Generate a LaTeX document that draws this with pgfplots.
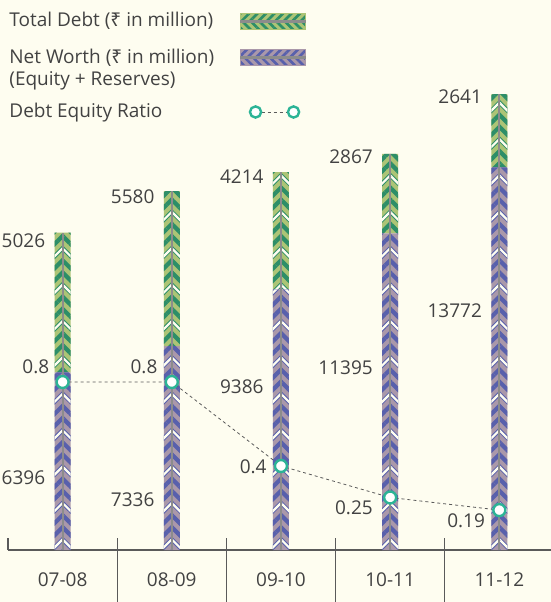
\documentclass[border=0pt]{standalone}
\usepackage{fontspec}
\setmainfont{Open Sans}
\newfontfamily\rupeefont{Noto Sans}
\usepackage{pgfplots}
\pgfplotsset{compat=1.18}
\usetikzlibrary{patterns.meta}

\definecolor{bg}{RGB}{254,253,240}
\definecolor{txt}{RGB}{66,66,66}
\definecolor{axisgray}{RGB}{90,90,90}
\definecolor{dgreen}{RGB}{45,142,104}
\definecolor{lgreen}{RGB}{172,196,118}
\definecolor{nblue}{RGB}{88,96,172}
\definecolor{npurple}{RGB}{170,152,170}
\definecolor{spine}{RGB}{140,140,140}
\definecolor{ratiocol}{RGB}{44,180,150}

\newcommand{\rupee}{{\rupeefont ₹}}

% chevron period: 2 x category spacing = 6 periods; right half shifted by 2 x first bar centre
\tikzset{
  halfL/.style 2 args={draw=none, fill=#1,
    postaction={pattern={Lines[angle=45,distance=4.29pt,line width=2.1pt]}, pattern color=#2},
    postaction={pattern={Lines[angle=45,distance=12.868pt,line width=1.1pt]}, pattern color=bg}},
  halfR/.style 2 args={draw=none, fill=#1,
    postaction={pattern={Lines[angle=-45,distance=4.29pt,line width=2.1pt,yshift=62.6pt]}, pattern color=#2},
    postaction={pattern={Lines[angle=-45,distance=12.868pt,line width=1.1pt,yshift=62.6pt]}, pattern color=bg}},
  barlabel/.style={anchor=east, inner sep=0pt, xshift=-8.5pt},
}
\pgfplotsset{
  base/.style={
    scale only axis, width=271.5pt, height=275pt,
    at={(4pt,26pt)}, anchor=south west,
    xmin=-0.5, xmax=4.473, ymin=0, ymax=19800,
    clip=false,
  },
}

\begin{document}
\begin{tikzpicture}[font=\fontsize{9.5}{11}\selectfont, every node/.append style={text=txt}]
\path[use as bounding box, fill=bg] (0,0) rectangle (275.5pt,301pt);

% left halves of the bars, x axis and value labels
\begin{axis}[base,
    ybar stacked, bar width=4pt, bar shift=-2pt,
    axis x line*=bottom, hide y axis,
    axis line style={draw=axisgray, line width=0.6pt, -},
    xtick={0,1,2,3,4},
    xticklabels={07-08,08-09,09-10,10-11,11-12},
    major tick length=0pt,
    xticklabel style={anchor=center, yshift=-15pt},
  ]
  \addplot[halfL={npurple}{nblue}] coordinates {(0,6396) (1,7336) (2,9386) (3,11395) (4,13772)};
  \addplot[halfL={lgreen}{dgreen}] coordinates {(0,5026) (1,5580) (2,4214) (3,2867) (4,2641)};

  \draw[axisgray, line width=0.6pt] (axis cs:-0.5,0) -- ++(0pt,6pt);
  \pgfplotsinvokeforeach{0.5,1.5,2.5,3.5}{
    \draw[axisgray, line width=0.6pt] (axis cs:#1,0) ++(0pt,6pt) -- ++(0pt,-32pt);
  }

  % total debt
  \node[barlabel] at (axis cs:0,11124) {5026};
  \node[barlabel] at (axis cs:1,12708) {5580};
  \node[barlabel] at (axis cs:2,13428) {4214};
  \node[barlabel] at (axis cs:3,14148) {2867};
  \node[barlabel] at (axis cs:4,16308) {2641};
  % net worth
  \node[barlabel] at (axis cs:0,2592) {6396};
  \node[barlabel] at (axis cs:1,1800) {7336};
  \node[barlabel] at (axis cs:2,5868) {9386};
  \node[barlabel] at (axis cs:3,6552) {11395};
  \node[barlabel] at (axis cs:4,8604) {13772};
\end{axis}

% right halves
\begin{axis}[base, ybar stacked, bar width=4pt, bar shift=2pt, hide axis]
  \addplot[halfR={npurple}{nblue}] coordinates {(0,6396) (1,7336) (2,9386) (3,11395) (4,13772)};
  \addplot[halfR={lgreen}{dgreen}] coordinates {(0,5026) (1,5580) (2,4214) (3,2867) (4,2641)};
\end{axis}

% centre spine
\begin{axis}[base, hide axis]
  \addplot[ycomb, spine, line width=1pt, no markers]
    coordinates {(0,11422) (1,12916) (2,13600) (3,14262) (4,16413)};
\end{axis}

% debt equity ratio
\begin{axis}[base, ymax=2.619, hide axis,
    legend plot pos=right,
    legend cell align=left,
    legend style={at={(0,1)}, anchor=north west, xshift=-1.5pt, yshift=-4pt,
      draw=none, fill=none, inner sep=0pt, row sep=5.5pt,
      nodes={align=left, text=txt},
      /tikz/every odd column/.append style={column sep=10.5pt}},
  ]
  \addlegendimage{legend image code/.code={
      \fill[lgreen, postaction={pattern={Lines[angle=45,distance=3pt,line width=1.3pt]}, pattern color=dgreen}] (0pt,0pt) rectangle (32.5pt,4pt);
      \fill[lgreen, postaction={pattern={Lines[angle=-45,distance=3pt,line width=1.3pt]}, pattern color=dgreen}] (0pt,-4pt) rectangle (32.5pt,0pt);
      \fill[spine] (0pt,-0.4pt) rectangle (32.5pt,0.4pt);
    }}
  \addlegendentry{Total Debt (\rupee\ in million)}
  \addlegendimage{legend image code/.code={
      \fill[npurple, postaction={pattern={Lines[angle=45,distance=3pt,line width=1.3pt]}, pattern color=nblue}] (0pt,5.5pt) rectangle (32.5pt,9.5pt);
      \fill[npurple, postaction={pattern={Lines[angle=-45,distance=3pt,line width=1.3pt]}, pattern color=nblue}] (0pt,1.5pt) rectangle (32.5pt,5.5pt);
      \fill[spine] (0pt,5.1pt) rectangle (32.5pt,5.9pt);
    }}
  \addlegendentry{Net Worth (\rupee\ in million)\\\raisebox{0pt}[\height][-5.5pt]{(Equity + Reserves)}}
  \addlegendimage{legend image code/.code={
      \draw[axisgray, line width=0.4pt, dash pattern=on 1.5pt off 1.5pt] (7.5pt,2pt) -- (26.5pt,2pt);
      \draw[ratiocol, fill=white, line width=1.2pt] (7.5pt,2pt) circle (2.8pt);
      \draw[ratiocol, fill=white, line width=1.2pt] (26.5pt,2pt) circle (2.8pt);
    }}
  \addlegendentry{\raisebox{2pt}[\height][\depth]{Debt Equity Ratio}}

  \addplot[axisgray, line width=0.4pt, dash pattern=on 1.5pt off 1.5pt,
      mark=*, mark size=3pt,
      mark options={solid, draw=ratiocol, fill=white, line width=1.2pt},
      forget plot]
    coordinates {(0,0.8) (1,0.8) (2,0.4) (3,0.25) (4,0.19)};

  \node[anchor=east, inner sep=0pt, xshift=-6.5pt] at (axis cs:0,0.871) {0.8};
  \node[anchor=east, inner sep=0pt, xshift=-7pt] at (axis cs:1,0.871) {0.8};
  \node[anchor=east, inner sep=0pt, xshift=-7pt] at (axis cs:2,0.395) {0.4};
  \node[anchor=east, inner sep=0pt, xshift=-8.5pt] at (axis cs:3,0.2) {0.25};
  \node[anchor=east, inner sep=0pt, xshift=-7pt] at (axis cs:4,0.138) {0.19};
\end{axis}
\end{tikzpicture}
\end{document}
